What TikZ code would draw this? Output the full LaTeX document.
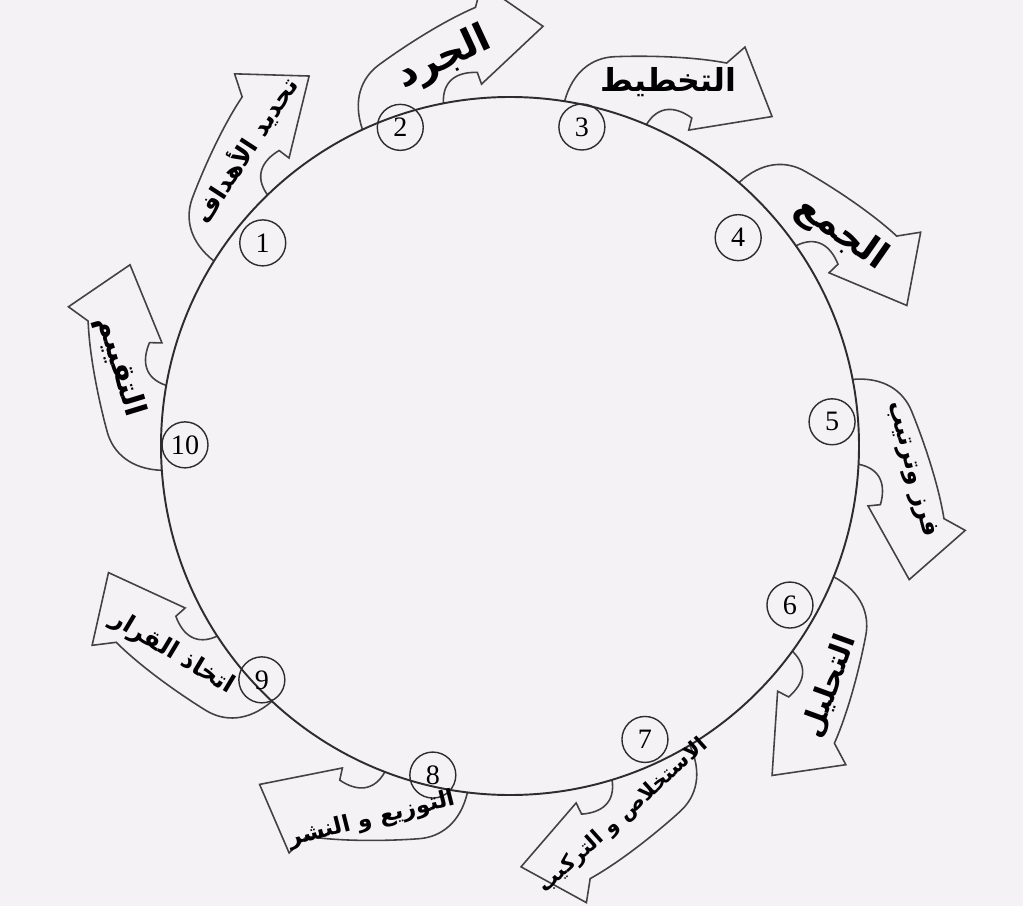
\documentclass[tikz,border=0pt]{standalone}
\usepackage{fontspec}
\newfontfamily\arabicfont[Script=Arabic]{DejaVu Sans}
\newfontfamily\numfont{Liberation Serif}
\TeXXeTstate=1
\definecolor{paper}{RGB}{244,242,245}
\definecolor{ink}{RGB}{45,45,45}
\begin{document}
\begin{tikzpicture}[x=0.02cm,y=0.02cm,
  ring/.style={draw=ink,line width=1.1pt},
  stagearrow/.style={draw=ink!90,line width=0.9pt},
  numcirc/.style={circle,draw=ink,line width=0.8pt,minimum size=0.92cm,inner sep=0pt,font=\numfont\fontsize{16}{16}\selectfont},
  stagelabel/.style={inner sep=0pt}]
\fill[paper] (-510,-460) rectangle (513,446);
\useasboundingbox (-510,-460) rectangle (513,446);
% curved arrows round the ring
\foreach \a in {148,115,81,49,11,-22,-59,-97,-133,-176}{
  \draw[stagearrow] (\a:349) .. controls (\a-0.5:380) and (\a-3:397) .. (\a-6:403)
    .. controls (\a-10:413) and (\a-16:430) .. (\a-20.5:440)
    -- (\a-21.5:463) -- (\a-29.5:421) -- (\a-20.5:363) -- (\a-20:375)
    .. controls (\a-17:378) and (\a-14.5:372) .. (\a-14:349);
}
\draw[ring] (0,0) circle (349);
% numbers
\foreach \ang/\dist/\num in {140.6/320/1,109/337/2,77.3/327/3,42.4/309/4,4.3/323/5,
    -29.6/322/6,-65.3/323/7,-103.2/338/8,-136.7/341/9,-180.2/325/10}
  \node[numcirc] (n\num) at (\ang:\dist) {\num};
% stage names
\foreach \ang/\dist/\rot/\fs/\num/\lbl in {
    131.8/397/57/14/1/{تحديد الأهداف},
    99.6/393/25/22/2/{الجرد},
    66.5/397/0/18/3/{التخطيط},
    32.7/394/-35/21/4/{الجمع},
    -3.4/402/-75/14/5/{فرز وترتيب},
    -36.9/400/70/17/6/{التحليل},
    -73/387/42/12/7/{الاستخلاص و التركيب},
    -110.3/398/14/13/8/{التوزيع و النشر},
    -148.5/396/-31/14/9/{اتخاذ القرار},
    168.5/398/-73/17/10/{التقييم}}
  \node[stagelabel,rotate=\rot,font=\arabicfont\bfseries\fontsize{\fs}{\fs}\selectfont] (t\num) at (\ang:\dist) {\beginR\lbl\endR};
\end{tikzpicture}
\end{document}
